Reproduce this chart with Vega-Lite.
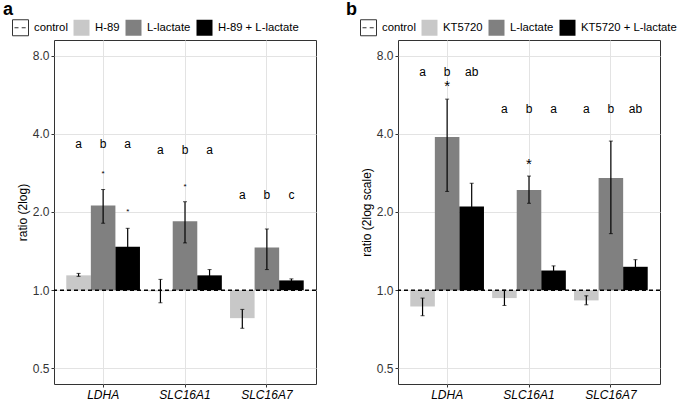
{
  "$schema": "https://vega.github.io/schema/vega-lite/v6.json",
  "padding": {"left": 2, "top": 0, "right": 0, "bottom": 0},
  "datasets": {
    "a": [
      {"gene": "LDHA", "treatment": "H-89", "value": 1.14, "lo": 1.13, "hi": 1.16, "letter": "a", "letterY": 3.67, "starY": null},
      {"gene": "LDHA", "treatment": "L-lactate", "value": 2.12, "lo": 1.81, "hi": 2.44, "letter": "b", "letterY": 3.67, "starY": 2.84},
      {"gene": "LDHA", "treatment": "H-89 + L-lactate", "value": 1.47, "lo": 1.25, "hi": 1.73, "letter": "a", "letterY": 3.67, "starY": 2.04},
      {"gene": "SLC16A1", "treatment": "H-89", "value": 0.99, "lo": 0.894, "hi": 1.10, "letter": "a", "letterY": 3.46, "starY": null},
      {"gene": "SLC16A1", "treatment": "L-lactate", "value": 1.84, "lo": 1.52, "hi": 2.19, "letter": "b", "letterY": 3.46, "starY": 2.54},
      {"gene": "SLC16A1", "treatment": "H-89 + L-lactate", "value": 1.14, "lo": 1.08, "hi": 1.20, "letter": "a", "letterY": 3.46, "starY": null},
      {"gene": "SLC16A7", "treatment": "H-89", "value": 0.78, "lo": 0.713, "hi": 0.843, "letter": "a", "letterY": 2.33, "starY": null},
      {"gene": "SLC16A7", "treatment": "L-lactate", "value": 1.46, "lo": 1.20, "hi": 1.72, "letter": "b", "letterY": 2.33, "starY": null},
      {"gene": "SLC16A7", "treatment": "H-89 + L-lactate", "value": 1.09, "lo": 1.075, "hi": 1.105, "letter": "c", "letterY": 2.33, "starY": null}
    ],
    "b": [
      {"gene": "LDHA", "treatment": "KT5720", "value": 0.865, "lo": 0.797, "hi": 0.932, "letter": "a", "letterY": 6.94, "starY": null},
      {"gene": "LDHA", "treatment": "L-lactate", "value": 3.89, "lo": 2.40, "hi": 5.44, "letter": "b", "letterY": 6.94, "starY": 6.15},
      {"gene": "LDHA", "treatment": "KT5720 + L-lactate", "value": 2.10, "lo": 1.70, "hi": 2.58, "letter": "ab", "letterY": 6.94, "starY": null},
      {"gene": "SLC16A1", "treatment": "KT5720", "value": 0.932, "lo": 0.873, "hi": 1.0, "letter": "a", "letterY": 4.97, "starY": null},
      {"gene": "SLC16A1", "treatment": "L-lactate", "value": 2.43, "lo": 2.16, "hi": 2.75, "letter": "b", "letterY": 4.97, "starY": 3.08},
      {"gene": "SLC16A1", "treatment": "KT5720 + L-lactate", "value": 1.19, "lo": 1.15, "hi": 1.24, "letter": "a", "letterY": 4.97, "starY": null},
      {"gene": "SLC16A7", "treatment": "KT5720", "value": 0.913, "lo": 0.878, "hi": 0.951, "letter": "a", "letterY": 4.97, "starY": null},
      {"gene": "SLC16A7", "treatment": "L-lactate", "value": 2.70, "lo": 1.65, "hi": 3.75, "letter": "b", "letterY": 4.97, "starY": null},
      {"gene": "SLC16A7", "treatment": "KT5720 + L-lactate", "value": 1.23, "lo": 1.16, "hi": 1.31, "letter": "ab", "letterY": 4.97, "starY": null}
    ]
  },
  "spacing": 27,
  "resolve": {"scale": {"fill": "independent", "xOffset": "independent", "y": "independent", "x": "independent"}, "legend": {"fill": "independent"}},
  "config": {
    "font": "Liberation Sans",
    "view": {"stroke": "#333333", "strokeWidth": 1},
    "axis": {"domain": false, "tickColor": "#333333", "tickSize": 3, "labelFontSize": 12, "labelColor": "#333333", "labelPadding": 2, "titleFontSize": 12, "titleFontWeight": "normal", "titleColor": "black", "gridColor": "#e3e3e3", "gridWidth": 1},
    "title": {"anchor": "start", "fontSize": 18, "fontWeight": "bold", "color": "black", "frame": "bounds"}
  },
  "hconcat": [
    {
      "width": 262,
      "height": 344,
      "title": {"text": "a", "dx": -9, "offset": 0},
      "data": {"name": "a"},
      "layer": [
        {
          "mark": {"type": "bar"},
          "encoding": {
            "x": {"field": "gene", "type": "nominal", "sort": ["LDHA", "SLC16A1", "SLC16A7"], "scale": {"paddingInner": 0.1, "paddingOuter": 0.15}, "axis": {"labelAngle": 0, "labelFontStyle": "italic", "labelFontSize": 12, "labelColor": "black", "bandPosition": 0.5, "grid": true, "title": null}},
            "xOffset": {"field": "treatment", "type": "nominal", "sort": ["H-89", "L-lactate", "H-89 + L-lactate"], "scale": {"paddingInner": 0, "paddingOuter": 0}},
            "y": {"field": "value", "type": "quantitative", "scale": {"type": "log", "base": 2, "domain": [0.435, 9.19], "nice": false}, "axis": {"values": [0.5, 1, 2, 4, 8], "format": ".1f", "grid": true, "titlePadding": 3}, "title": "ratio (2log)"},
            "y2": {"datum": 1},
            "fill": {"field": "treatment", "type": "nominal", "scale": {"domain": ["control", "H-89", "L-lactate", "H-89 + L-lactate"], "range": ["white", "#c8c8c8", "#808080", "black"]},
              "legend": {"orient": "none", "legendX": -42, "legendY": -21, "direction": "horizontal", "title": null, "symbolSize": 256, "labelFontSize": 11.3, "labelColor": "black", "columnPadding": 3, "labelOffset": 5,
                "encode": {"symbols": {"update": {"shape": {"signal": "datum.value === 'control' ? 'M-1,-1H1V1H-1Z M-0.75,0H-0.25 M0.15,0H0.65' : 'square'"}, "stroke": {"signal": "datum.value === 'control' ? '#333333' : 'transparent'"}, "strokeWidth": {"value": 1}}}}}}
          }
        },
        {
          "data": {"values": [{"ref": 1}]},
          "mark": {"type": "rule", "color": "black", "strokeWidth": 1.5, "strokeDash": [4, 3]},
          "encoding": {"y": {"field": "ref", "type": "quantitative"}}
        },
        {
          "mark": {"type": "rule", "color": "black", "strokeWidth": 1.2},
          "encoding": {
            "x": {"field": "gene", "type": "nominal", "sort": ["LDHA", "SLC16A1", "SLC16A7"]},
            "xOffset": {"field": "treatment", "type": "nominal", "sort": ["H-89", "L-lactate", "H-89 + L-lactate"]},
            "y": {"field": "lo", "type": "quantitative"},
            "y2": {"field": "hi"}
          }
        },
        {
          "mark": {"type": "tick", "color": "black", "size": 4, "thickness": 1},
          "encoding": {
            "x": {"field": "gene", "type": "nominal", "sort": ["LDHA", "SLC16A1", "SLC16A7"]},
            "xOffset": {"field": "treatment", "type": "nominal", "sort": ["H-89", "L-lactate", "H-89 + L-lactate"]},
            "y": {"field": "lo", "type": "quantitative"}
          }
        },
        {
          "mark": {"type": "tick", "color": "black", "size": 4, "thickness": 1},
          "encoding": {
            "x": {"field": "gene", "type": "nominal", "sort": ["LDHA", "SLC16A1", "SLC16A7"]},
            "xOffset": {"field": "treatment", "type": "nominal", "sort": ["H-89", "L-lactate", "H-89 + L-lactate"]},
            "y": {"field": "hi", "type": "quantitative"}
          }
        },
        {
          "mark": {"type": "text", "fontSize": 12, "color": "black", "baseline": "middle"},
          "encoding": {
            "x": {"field": "gene", "type": "nominal", "sort": ["LDHA", "SLC16A1", "SLC16A7"]},
            "xOffset": {"field": "treatment", "type": "nominal", "sort": ["H-89", "L-lactate", "H-89 + L-lactate"]},
            "y": {"field": "letterY", "type": "quantitative"},
            "text": {"field": "letter"}
          }
        },
        {
          "transform": [{"filter": "datum.starY != null"}],
          "mark": {"type": "text", "fontSize": 8, "color": "black", "baseline": "middle", "dy": 2, "text": "*"},
          "encoding": {
            "x": {"field": "gene", "type": "nominal", "sort": ["LDHA", "SLC16A1", "SLC16A7"]},
            "xOffset": {"field": "treatment", "type": "nominal", "sort": ["H-89", "L-lactate", "H-89 + L-lactate"]},
            "y": {"field": "starY", "type": "quantitative"}
          }
        }
      ]
    },
    {
      "width": 262,
      "height": 344,
      "title": {"text": "b", "dx": -14, "offset": 0},
      "data": {"name": "b"},
      "layer": [
        {
          "mark": {"type": "bar"},
          "encoding": {
            "x": {"field": "gene", "type": "nominal", "sort": ["LDHA", "SLC16A1", "SLC16A7"], "scale": {"paddingInner": 0.1, "paddingOuter": 0.15}, "axis": {"labelAngle": 0, "labelFontStyle": "italic", "labelFontSize": 12, "labelColor": "black", "bandPosition": 0.5, "grid": true, "title": null}},
            "xOffset": {"field": "treatment", "type": "nominal", "sort": ["KT5720", "L-lactate", "KT5720 + L-lactate"], "scale": {"paddingInner": 0, "paddingOuter": 0}},
            "y": {"field": "value", "type": "quantitative", "scale": {"type": "log", "base": 2, "domain": [0.435, 9.19], "nice": false}, "axis": {"values": [0.5, 1, 2, 4, 8], "format": ".1f", "grid": true, "titlePadding": 3}, "title": "ratio (2log scale)"},
            "y2": {"datum": 1},
            "fill": {"field": "treatment", "type": "nominal", "scale": {"domain": ["control", "KT5720", "L-lactate", "KT5720 + L-lactate"], "range": ["white", "#c8c8c8", "#808080", "black"]},
              "legend": {"orient": "none", "legendX": -38, "legendY": -21, "direction": "horizontal", "title": null, "symbolSize": 256, "labelFontSize": 11.3, "labelColor": "black", "columnPadding": 3, "labelOffset": 5,
                "encode": {"symbols": {"update": {"shape": {"signal": "datum.value === 'control' ? 'M-1,-1H1V1H-1Z M-0.75,0H-0.25 M0.15,0H0.65' : 'square'"}, "stroke": {"signal": "datum.value === 'control' ? '#333333' : 'transparent'"}, "strokeWidth": {"value": 1}}}}}}
          }
        },
        {
          "data": {"values": [{"ref": 1}]},
          "mark": {"type": "rule", "color": "black", "strokeWidth": 1.5, "strokeDash": [4, 3]},
          "encoding": {"y": {"field": "ref", "type": "quantitative"}}
        },
        {
          "mark": {"type": "rule", "color": "black", "strokeWidth": 1.2},
          "encoding": {
            "x": {"field": "gene", "type": "nominal", "sort": ["LDHA", "SLC16A1", "SLC16A7"]},
            "xOffset": {"field": "treatment", "type": "nominal", "sort": ["KT5720", "L-lactate", "KT5720 + L-lactate"]},
            "y": {"field": "lo", "type": "quantitative"},
            "y2": {"field": "hi"}
          }
        },
        {
          "mark": {"type": "tick", "color": "black", "size": 4, "thickness": 1},
          "encoding": {
            "x": {"field": "gene", "type": "nominal", "sort": ["LDHA", "SLC16A1", "SLC16A7"]},
            "xOffset": {"field": "treatment", "type": "nominal", "sort": ["KT5720", "L-lactate", "KT5720 + L-lactate"]},
            "y": {"field": "lo", "type": "quantitative"}
          }
        },
        {
          "mark": {"type": "tick", "color": "black", "size": 4, "thickness": 1},
          "encoding": {
            "x": {"field": "gene", "type": "nominal", "sort": ["LDHA", "SLC16A1", "SLC16A7"]},
            "xOffset": {"field": "treatment", "type": "nominal", "sort": ["KT5720", "L-lactate", "KT5720 + L-lactate"]},
            "y": {"field": "hi", "type": "quantitative"}
          }
        },
        {
          "mark": {"type": "text", "fontSize": 12, "color": "black", "baseline": "middle"},
          "encoding": {
            "x": {"field": "gene", "type": "nominal", "sort": ["LDHA", "SLC16A1", "SLC16A7"]},
            "xOffset": {"field": "treatment", "type": "nominal", "sort": ["KT5720", "L-lactate", "KT5720 + L-lactate"]},
            "y": {"field": "letterY", "type": "quantitative"},
            "text": {"field": "letter"}
          }
        },
        {
          "transform": [{"filter": "datum.starY != null"}],
          "mark": {"type": "text", "fontSize": 15, "color": "black", "baseline": "middle", "dy": 1, "text": "*"},
          "encoding": {
            "x": {"field": "gene", "type": "nominal", "sort": ["LDHA", "SLC16A1", "SLC16A7"]},
            "xOffset": {"field": "treatment", "type": "nominal", "sort": ["KT5720", "L-lactate", "KT5720 + L-lactate"]},
            "y": {"field": "starY", "type": "quantitative"}
          }
        }
      ]
    }
  ]
}
